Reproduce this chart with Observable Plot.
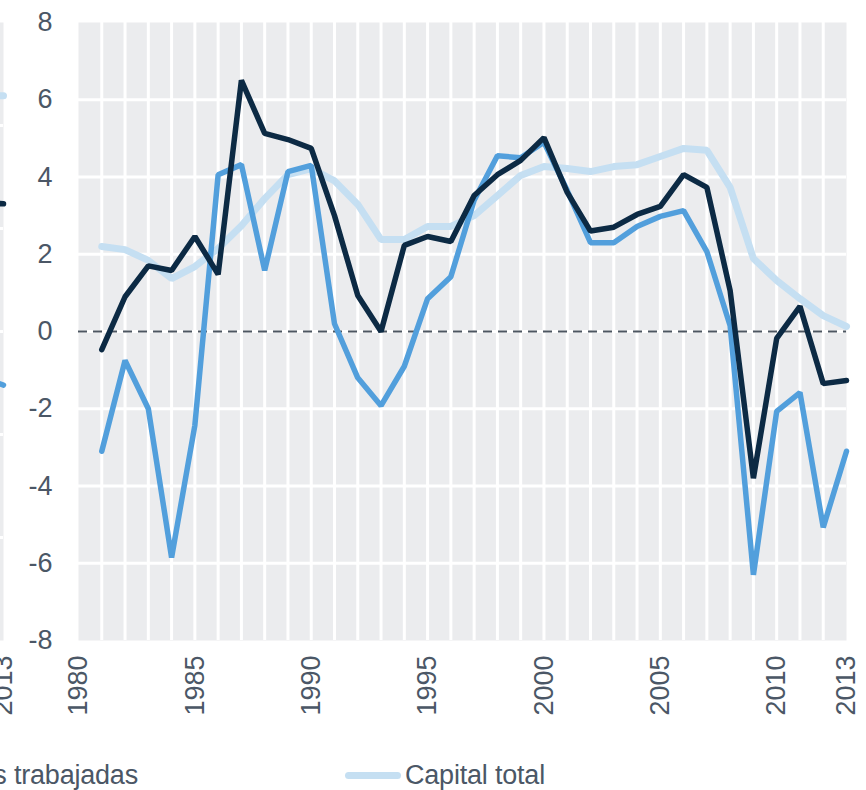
<!DOCTYPE html>
<html><head><meta charset="utf-8">
<script src="https://cdn.jsdelivr.net/npm/d3@7"></script>
<script src="https://cdn.jsdelivr.net/npm/@observablehq/plot@0.6"></script>
<style>
html,body{margin:0;padding:0;background:#fff;}
#wrap{position:relative;width:866px;height:790px;overflow:hidden;font-family:"Liberation Sans",Arial,sans-serif;}
#left{position:absolute;top:0;left:-843px;}
#main{position:absolute;top:0;left:0;}
.leg{position:absolute;top:757px;height:36px;display:flex;align-items:center;font-size:27px;color:#4b5766;white-space:nowrap;letter-spacing:-0.2px}
.sw{display:inline-block;width:56px;height:7px;border-radius:4px;margin-right:4px}
</style></head><body>
<div id="wrap"><div id="left"></div><div id="main"></div>
<div class="leg" style="right:728px"><span class="sw" style="background:#529fdc"></span>Horas trabajadas</div>
<div class="leg" style="left:345px"><span class="sw" style="background:#c5dff2"></span>Capital total</div>
</div>
<script>
const years = [1981,1982,1983,1984,1985,1986,1987,1988,1989,1990,1991,1992,1993,1994,1995,1996,1997,1998,1999,2000,2001,2002,2003,2004,2005,2006,2007,2008,2009,2010,2011,2012,2013];
const pib = [-0.47,0.9,1.7,1.58,2.46,1.48,6.5,5.13,4.97,4.74,3.0,0.93,0.0,2.23,2.46,2.33,3.52,4.06,4.43,5.02,3.6,2.6,2.7,3.03,3.24,4.06,3.73,1.06,-3.8,-0.18,0.65,-1.35,-1.27];
const horas = [-3.1,-0.75,-2.0,-5.85,-2.43,4.06,4.32,1.58,4.14,4.3,0.2,-1.2,-1.92,-0.9,0.85,1.42,3.4,4.55,4.5,4.9,3.65,2.3,2.3,2.72,2.98,3.13,2.07,0.15,-6.3,-2.07,-1.58,-5.07,-3.1];
const capital = [2.2,2.12,1.84,1.37,1.68,2.15,2.74,3.44,4.06,4.22,3.9,3.29,2.38,2.38,2.72,2.72,3.0,3.52,4.04,4.27,4.22,4.14,4.27,4.32,4.53,4.74,4.69,3.73,1.89,1.32,0.85,0.41,0.13];
const xTicks = [1980,1985,1990,1995,2000,2005,2010,2013];
const yTicks = [-8,-6,-4,-2,0,2,4,6,8];
// neighbouring panel (only its right edge is visible)
const leftYears = [2012,2013];
const leftPib = [2.5,2.48];
const leftHoras = [-0.9,-1.04];
const leftCapital = [4.58,4.58];
const leftYTicks = [-6,-4,-2,0,2,4,6];

const C_DARK="#0c2a44", C_MID="#529fdc", C_LIGHT="#c5dff2", BG="#ebecee", TXT="#4b5766";
const rows = (ys, vals) => ys.map((y,i)=>({year:y, value:vals[i]}));
const style = {fontFamily:"'Liberation Sans', Arial, sans-serif", fontSize:"27px", color:TXT, background:"transparent", overflow:"visible"};

function panel(opts){
  const {ys, p, h, c, yDomain, yTickVals, showZero, xTickVals, showY} = opts;
  const inner = yTickVals.filter(v=>v>yDomain[0] && v<yDomain[1]);
  return Plot.plot({
    width:866, height:720, marginLeft:78, marginRight:20, marginTop:22, marginBottom:80,
    x:{domain:[1980,2013], axis:null}, y:{domain:yDomain, axis:null},
    style,
    marks:[
      Plot.frame({fill:BG, stroke:"none"}),
      Plot.ruleX(years.filter(v=>v<2013), {stroke:"#fff", strokeWidth:3}),
      Plot.ruleY(inner, {stroke:"#fff", strokeWidth:3}),
      showZero ? Plot.ruleY([0], {stroke:"#4d5661", strokeWidth:2, strokeDasharray:"9,6"}) : null,
      Plot.line(rows(ys,c), {x:"year", y:"value", stroke:C_LIGHT, strokeWidth:7, strokeLinejoin:"miter", strokeLinecap:"round"}),
      Plot.line(rows(ys,h), {x:"year", y:"value", stroke:C_MID, strokeWidth:5.5, strokeLinejoin:"miter", strokeLinecap:"round"}),
      Plot.line(rows(ys,p), {x:"year", y:"value", stroke:C_DARK, strokeWidth:5.5, strokeLinejoin:"miter", strokeLinecap:"round"}),
      showY ? Plot.axisY(yTickVals, {tickSize:0, tickPadding:26, label:null, fill:TXT, tickFormat:d=>String(d)}) : null,
      Plot.axisX(xTickVals, {tickSize:0, tickPadding:15, tickRotate:-90, tickFormat:d=>String(d), label:null, fill:TXT})
    ]
  });
}

document.getElementById("main").append(panel({ys:years, p:pib, h:horas, c:capital, yDomain:[-8,8], yTickVals:yTicks, showZero:true, xTickVals:xTicks, showY:true}));
document.getElementById("left").append(panel({ys:leftYears, p:leftPib, h:leftHoras, c:leftCapital, yDomain:[-6,6], yTickVals:leftYTicks, showZero:false, xTickVals:[2013], showY:false}));
</script>
</body></html>
